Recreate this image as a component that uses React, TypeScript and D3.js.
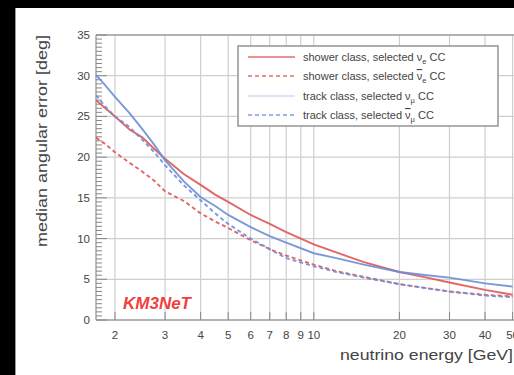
import React from "react";
import * as d3 from "d3";

const energies = [1.715, 1.85, 2, 2.25, 2.5, 2.75, 3, 3.5, 4, 4.5, 5, 6, 7, 8, 10, 12, 15, 20, 25, 30, 40, 50];
const showerNuE = [27.0, 26.0, 25.0, 23.4, 22.4, 21.0, 19.8, 17.9, 16.6, 15.4, 14.5, 12.9, 11.8, 10.8, 9.3, 8.3, 7.1, 5.9, 5.2, 4.6, 3.7, 3.1];
const showerNuEBar = [22.4, 21.6, 20.6, 19.3, 18.2, 17.1, 15.8, 14.6, 13.1, 12.1, 11.3, 9.8, 8.7, 7.9, 6.8, 6.0, 5.3, 4.4, 3.9, 3.5, 3.1, 2.9];
const trackNuMu = [30.1, 28.8, 27.4, 25.4, 23.4, 21.5, 19.6, 17.0, 15.1, 14.0, 12.9, 11.4, 10.3, 9.5, 8.2, 7.6, 6.8, 5.9, 5.5, 5.2, 4.5, 4.1];
const trackNuMuBar = [27.6, 26.2, 25.0, 23.7, 22.1, 20.6, 19.0, 16.5, 14.7, 13.1, 11.8, 10.0, 8.7, 7.6, 6.6, 5.9, 5.2, 4.4, 3.9, 3.5, 3.0, 2.8];

const xTicks = [2, 3, 4, 5, 6, 7, 8, 9, 10, 20, 30, 40, 50];
const yTicks = [0, 5, 10, 15, 20, 25, 30, 35];

const RED = "#e05555";
const BLUE = "#6a8ed8";

const series = [
  { values: showerNuE, color: RED, dash: null, label: "shower class, selected ", bar: false, sub: "e" },
  { values: showerNuEBar, color: RED, dash: "4,3", label: "shower class, selected ", bar: true, sub: "e" },
  { values: trackNuMu, color: BLUE, dash: null, label: "track class, selected ", bar: false, sub: "μ" },
  { values: trackNuMuBar, color: BLUE, dash: "4,3", label: "track class, selected ", bar: true, sub: "μ" },
];

export default function App() {
  const W = 514, H = 375;
  const left = 96, right = 512.6, top = 35, bottom = 320;
  const x = d3.scaleLog().domain([1.715, 50]).range([left, right]);
  const y = d3.scaleLinear().domain([0, 35]).range([bottom, top]);
  const line = d3.line<number>().x((_, i) => x(energies[i])).y((d) => y(d));
  const minorY = d3.range(0, 35.01, 0.5);
  const font = "'Liberation Sans', Arial, sans-serif";
  const legendRows = [57, 76, 96, 115];

  return (
    <svg width={W} height={H} style={{ position: "absolute", left: 0, top: 0, background: "#fff" }}>
      <rect x={0} y={0} width={W} height={H} fill="#fff" />
      <rect x={0} y={0} width={W} height={8} fill="#000" />
      <rect x={0} y={0} width={15} height={H} fill="#000" />
      <line x1={15.5} x2={15.5} y1={8} y2={H} stroke="#999" />
      {xTicks.map((t) => (
        <line key={"gx" + t} x1={x(t)} x2={x(t)} y1={top} y2={bottom} stroke="#cfcfcf" strokeWidth={1.2} />
      ))}
      {yTicks.slice(1, -1).map((t) => (
        <line key={"gy" + t} x1={left} x2={W} y1={y(t)} y2={y(t)} stroke="#cfcfcf" strokeWidth={1.2} />
      ))}
      <line x1={left} x2={W} y1={top} y2={top} stroke="#999" strokeWidth={1.3} />
      <line x1={left} x2={W} y1={bottom} y2={bottom} stroke="#999" strokeWidth={1.3} />
      <line x1={left} x2={left} y1={top} y2={bottom} stroke="#999" strokeWidth={1.3} />
      {minorY.map((t) => {
        const major = Math.abs(t % 5) < 1e-6;
        return (
          <line key={"my" + t} x1={left} x2={left + (major ? 11 : 6)} y1={y(t)} y2={y(t)} stroke="#888" strokeWidth={1} />
        );
      })}
      {yTicks.map((t) => (
        <text key={"ly" + t} x={90} y={y(t) + 4} textAnchor="end" fontSize={11.5} fill="#444" fontFamily={font}>
          {t}
        </text>
      ))}
      {xTicks.map((t) => (
        <line key={"tx" + t} x1={x(t)} x2={x(t)} y1={bottom} y2={bottom - 8} stroke="#888" strokeWidth={1} />
      ))}
      {xTicks.map((t) => (
        <text key={"lx" + t} x={x(t)} y={339} textAnchor="middle" fontSize={11.5} fill="#444" fontFamily={font}>
          {t}
        </text>
      ))}
      {series.map((s, i) => (
        <path key={"s" + i} d={line(s.values) || ""} fill="none" stroke={s.color} strokeWidth={1.9}
          strokeDasharray={s.dash || undefined} opacity={0.9} />
      ))}
      <text transform="translate(47,35) rotate(-90)" textAnchor="end" fontSize={14.5} fill="#444" fontFamily={font}
        textLength={212} lengthAdjust="spacingAndGlyphs">
        median angular error [deg]
      </text>
      <text x={513} y={360} textAnchor="end" fontSize={14.5} fill="#444" fontFamily={font}
        textLength={173} lengthAdjust="spacingAndGlyphs">
        neutrino energy [GeV]
      </text>
      <text x={123} y={309} fontSize={17} fontStyle="italic" fontWeight="bold" fill="#f04040" fontFamily={font}>
        KM3NeT
      </text>
      <rect x={238} y={46} width={260} height={80} fill="#fff" stroke="#9a9a9a" strokeWidth={1.6} />
      {series.map((s, i) => (
        <g key={"lg" + i}>
          <line x1={248} x2={295} y1={legendRows[i]} y2={legendRows[i]} stroke={s.color} strokeWidth={1.6}
            strokeDasharray={s.dash || undefined} opacity={i === 2 ? 0.3 : 0.85} />
          <text x={303} y={legendRows[i] + 4} fontSize={11} fill="#444" fontFamily={font}>
            {s.label}
            <tspan style={{ textDecoration: s.bar ? "overline" : "none" }}>ν</tspan>
            <tspan fontSize={7.5} dy={3}>{s.sub}</tspan>
            <tspan dy={-3}> CC</tspan>
          </text>
        </g>
      ))}
    </svg>
  );
}
